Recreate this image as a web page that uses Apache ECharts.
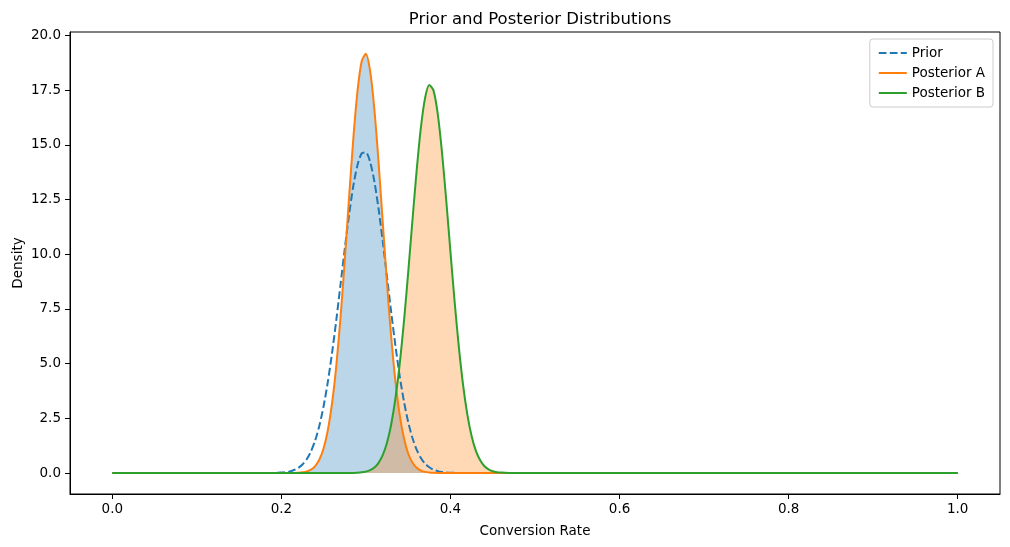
<!DOCTYPE html>
<html>
<head>
<meta charset="utf-8">
<script src="https://cdn.jsdelivr.net/npm/echarts@6/dist/echarts.min.js"></script>
<style>
  html, body { margin: 0; padding: 0; background: #fff; }
  #chart { width: 1010px; height: 547px; }
</style>
</head>
<body>
<div id="chart"></div>
<script>
// x grid (conversion rate)
const xGrid = [0,
  0.19, 0.195, 0.2, 0.205, 0.21, 0.215, 0.22, 0.225, 0.23, 0.235,
  0.24, 0.245, 0.25, 0.255, 0.26, 0.265, 0.27, 0.275, 0.28, 0.285,
  0.29, 0.295, 0.3, 0.305, 0.31, 0.315, 0.32, 0.325, 0.33, 0.335,
  0.34, 0.345, 0.35, 0.355, 0.36, 0.365, 0.37, 0.375, 0.38, 0.385,
  0.39, 0.395, 0.4, 0.405, 0.41, 0.415, 0.42, 0.425, 0.43, 0.435,
  0.44, 0.445, 0.45, 0.455, 0.46, 0.465, 0.47, 0.475, 0.48,
  1.0];

const priorDensity = [0,
  0.005, 0.011, 0.021, 0.041, 0.075, 0.135, 0.234, 0.391, 0.631, 0.986,
  1.489, 2.173, 3.063, 4.175, 5.50, 7.00, 8.62, 10.25, 11.79, 13.10,
  14.07, 14.61, 14.66, 14.22, 13.33, 12.07, 10.57, 8.95, 7.32, 5.79,
  4.42, 3.27, 2.33, 1.61, 1.07, 0.69, 0.43, 0.26, 0.15, 0.085,
  0.046, 0.024, 0.012, 0.006, 0.003, 0, 0, 0, 0, 0,
  0, 0, 0, 0, 0, 0, 0, 0, 0,
  0];

const posteriorA = [0,
  0, 0, 0, 0, 0.002, 0.005, 0.012, 0.030, 0.070, 0.154,
  0.318, 0.617, 1.133, 1.96, 3.20, 4.91, 7.12, 9.73, 12.54, 15.23,
  17.43, 18.82, 19.16, 18.38, 16.63, 14.19, 11.41, 8.65, 6.18, 4.17,
  2.65, 1.59, 0.89, 0.48, 0.24, 0.113, 0.051, 0.021, 0.008, 0.003,
  0, 0, 0, 0, 0, 0, 0, 0, 0, 0,
  0, 0, 0, 0, 0, 0, 0, 0, 0,
  0];

const posteriorB = [0,
  0, 0, 0, 0, 0, 0, 0, 0, 0, 0,
  0, 0, 0, 0, 0, 0, 0, 0, 0.002, 0.005,
  0.013, 0.029, 0.062, 0.128, 0.25, 0.465, 0.825, 1.39, 2.24, 3.43,
  4.99, 6.93, 9.16, 11.53, 13.82, 15.78, 17.15, 17.74, 17.48, 16.41,
  14.66, 12.47, 10.11, 7.80, 5.73, 4.01, 2.67, 1.69, 1.02, 0.59,
  0.32, 0.168, 0.083, 0.039, 0.018, 0.008, 0.003, 0.001, 0,
  0];

const xTicks = [0, 0.2, 0.4, 0.6, 0.8, 1.0];
const yTicks = [0, 2.5, 5, 7.5, 10, 12.5, 15, 17.5, 20];

const toPairs = ys => xGrid.map((x, i) => [x, ys[i]]);

const FONT = 'DejaVu Sans';
const SMOOTH = 0.25;
const chart = echarts.init(document.getElementById('chart'), null, { renderer: 'canvas' });

chart.setOption({
  animation: false,
  backgroundColor: '#ffffff',
  textStyle: { fontFamily: FONT },
  title: {
    text: 'Prior and Posterior Distributions',
    left: 535, top: 6, textAlign: 'center',
    textStyle: { fontFamily: FONT, fontSize: 16.5, fontWeight: 'normal', color: '#000' }
  },
  legend: {
    data: ['Prior', 'Posterior A', 'Posterior B'],
    orient: 'vertical',
    right: 17, top: 39,
    padding: [7, 8, 7, 8],
    itemGap: 6,
    itemWidth: 28, itemHeight: 14,
    itemStyle: { opacity: 0 },
    borderColor: '#cccccc', borderWidth: 1, borderRadius: 3,
    backgroundColor: '#ffffff',
    textStyle: { fontFamily: FONT, fontSize: 13.5, color: '#000' }
  },
  grid: {
    left: 70, right: 10, top: 32, bottom: 53,
    outerBoundsMode: 'none', containLabel: false,
    show: true, borderColor: '#000', borderWidth: 1
  },
  xAxis: {
    type: 'value', min: -0.05, max: 1.05,
    name: 'Conversion Rate', nameLocation: 'middle', nameGap: 30, nameMoveOverlap: false,
    nameTextStyle: { fontFamily: FONT, fontSize: 13.5, color: '#000' },
    axisLine: { show: true, onZero: false, lineStyle: { color: '#000', width: 1 } },
    axisTick: { show: true, customValues: xTicks, length: 5, lineStyle: { color: '#000' } },
    axisLabel: { customValues: xTicks, margin: 8, fontFamily: FONT, fontSize: 13.5, color: '#000',
      formatter: v => v.toFixed(1) },
    splitLine: { show: false }
  },
  yAxis: {
    type: 'value', min: -0.96, max: 20.16,
    name: 'Density', nameLocation: 'middle', nameGap: 45, nameRotate: 90, nameMoveOverlap: false,
    nameTextStyle: { fontFamily: FONT, fontSize: 13.5, color: '#000' },
    axisLine: { show: true, onZero: false, lineStyle: { color: '#000', width: 1 } },
    axisTick: { show: true, customValues: yTicks, length: 5, lineStyle: { color: '#000' } },
    axisLabel: { customValues: yTicks, margin: 9, fontFamily: FONT, fontSize: 13.5, color: '#000',
      formatter: v => v.toFixed(1) },
    splitLine: { show: false }
  },
  series: [
    {
      name: 'fillA', type: 'line', data: toPairs(posteriorA), z: 1, smooth: SMOOTH,
      symbol: 'none', silent: true, lineStyle: { width: 0, opacity: 0 },
      areaStyle: { color: '#1f77b4', opacity: 0.3, origin: 0 }
    },
    {
      name: 'fillB', type: 'line', data: toPairs(posteriorB), z: 1, smooth: SMOOTH,
      symbol: 'none', silent: true, lineStyle: { width: 0, opacity: 0 },
      areaStyle: { color: '#ff7f0e', opacity: 0.3, origin: 0 }
    },
    {
      name: 'Prior', type: 'line', data: toPairs(priorDensity), z: 3, smooth: SMOOTH,
      symbol: 'none', color: '#1f77b4',
      lineStyle: { color: '#1f77b4', width: 2, type: [7.7, 3.3] }
    },
    {
      name: 'Posterior A', type: 'line', data: toPairs(posteriorA), z: 3, smooth: SMOOTH,
      symbol: 'none', color: '#ff7f0e',
      lineStyle: { color: '#ff7f0e', width: 2 }
    },
    {
      name: 'Posterior B', type: 'line', data: toPairs(posteriorB), z: 3, smooth: SMOOTH,
      symbol: 'none', color: '#2ca02c',
      lineStyle: { color: '#2ca02c', width: 2 }
    }
  ]
});
</script>
</body>
</html>
